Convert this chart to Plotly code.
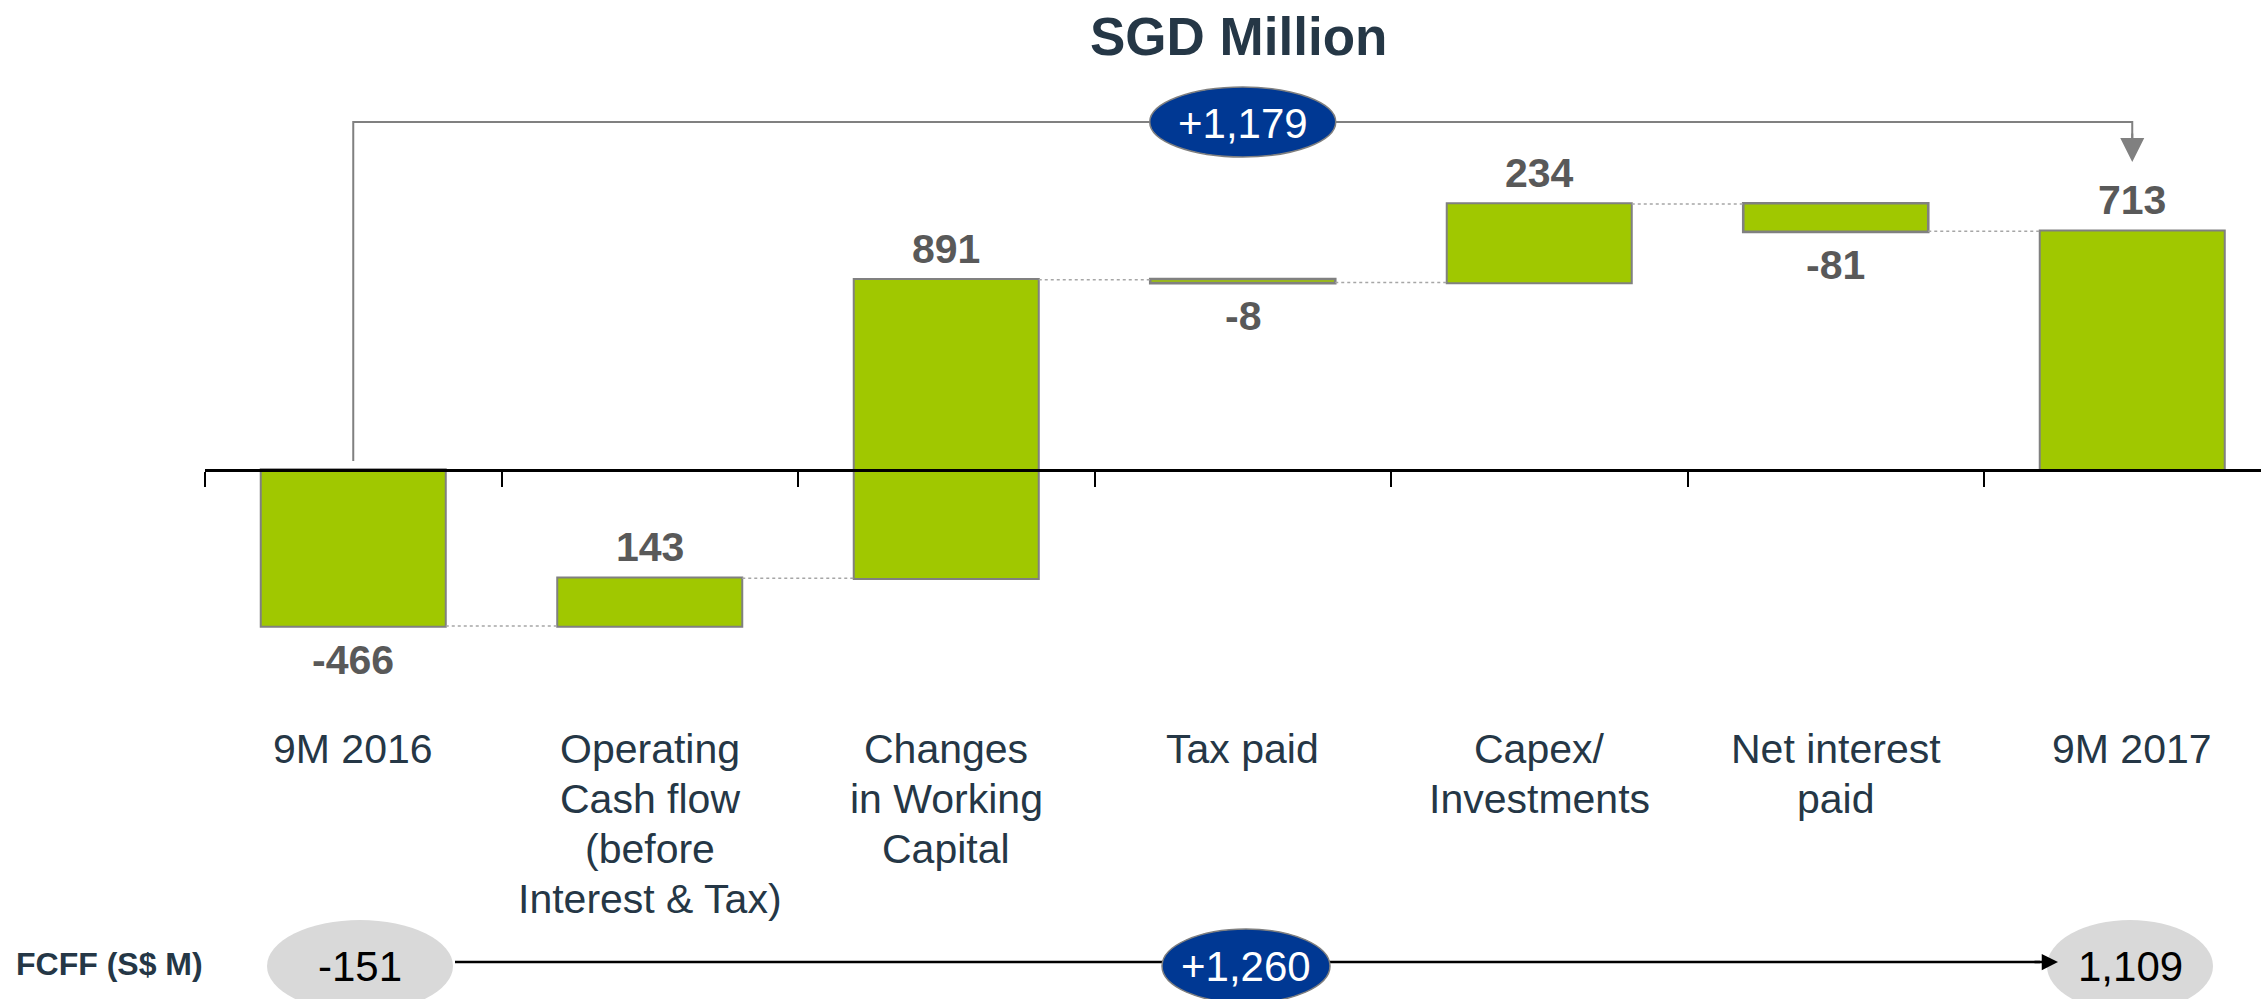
import plotly.graph_objects as go

# data
categories = ["9M 2016", "Operating<br>Cash flow<br>(before<br>Interest & Tax)",
              "Changes<br>in Working<br>Capital", "Tax paid", "Capex/<br>Investments",
              "Net interest<br>paid", "9M 2017"]
values = [-466, 143, 891, -8, 234, -81, 713]
measures = ["absolute", "relative", "relative", "relative", "relative", "relative", "total"]
fcff_start = -151
fcff_change = 1260
fcff_end = 1109

W, H = 2261, 999
NAVY = "#253746"
GREEN = "#A0C800"
BLUE = "#003893"
FONT = "Liberation Sans"


def px(x):
    return x / W


def py(y):
    return 1 - y / H


# pixel layout of the reference
zero_y = 470
unit_px = 0.335
cat_px = 296.5
left_px = 205

fig = go.Figure()

bar_line = dict(color="#808080", width=2)
fig.add_trace(go.Waterfall(
    x=list(range(len(values))),
    y=values,
    measure=measures,
    cliponaxis=False,
    increasing=dict(marker=dict(color=GREEN, line=bar_line)),
    decreasing=dict(marker=dict(color=GREEN, line=dict(color="#808080", width=2.6))),
    totals=dict(marker=dict(color=GREEN, line=bar_line)),
    connector=dict(mode="between", line=dict(color="#A6A6A6", width=1.5, dash="dot")),
    showlegend=False,
    hoverinfo="skip",
))

# value labels at the end of each bar
running = 0
for i, (v, m) in enumerate(zip(values, measures)):
    if m == "absolute":
        running = v
        end = v
    elif m == "relative":
        running += v
        end = running
    else:
        end = running
    up = v >= 0
    fig.add_annotation(x=i, y=end, xref="x", yref="y", xanchor="center", yanchor="middle",
                       yshift=31 if up else -34, text=f"<b>{v:,}</b>", showarrow=False,
                       font=dict(family=FONT, size=41, color="#595959"))

# category labels, one annotation per line
for i, c in enumerate(categories):
    for k, line in enumerate(c.split("<br>")):
        fig.add_annotation(x=i, xref="x", y=py(749 + 50 * k), yref="paper",
                           xanchor="center", yanchor="middle",
                           text=line, showarrow=False,
                           font=dict(family=FONT, size=41, color=NAVY))

# title
fig.add_annotation(x=px(1238), y=py(37), xref="paper", yref="paper",
                   xanchor="center", yanchor="middle",
                   text="<b>SGD Million</b>", showarrow=False,
                   font=dict(family=FONT, size=53, color=NAVY))

# top bracket from first to last bar
last = len(values) - 1
fig.add_shape(type="path", xref="x", yref="paper",
              path=f"M 0,{py(461)} V {py(122)} H {last} V {py(145)}",
              line=dict(color="#808080", width=2))
fig.add_annotation(x=last, xref="x", y=py(162), yref="paper", ax=0, ay=-30,
                   text="", showarrow=True, arrowhead=2, arrowsize=2.4,
                   arrowwidth=2, arrowcolor="#808080")
fig.add_shape(type="circle", xref="x", yref="paper", xsizemode="pixel", ysizemode="pixel",
              xanchor=last / 2, yanchor=py(122), x0=-93, x1=93, y0=-35, y1=35,
              fillcolor=BLUE, line=dict(color="#7F7F7F", width=1.5))
fig.add_annotation(x=last / 2, xref="x", y=py(123), yref="paper",
                   xanchor="center", yanchor="middle",
                   text=f"+{values[-1] - values[0]:,}", showarrow=False,
                   font=dict(family=FONT, size=42, color="white"))

# FCFF row
row_y = 962
fig.add_annotation(x=px(14), y=py(row_y + 2), xref="paper", yref="paper",
                   xanchor="left", yanchor="middle",
                   text="<b>FCFF (S$ M)</b>", showarrow=False,
                   font=dict(family=FONT, size=32, color=NAVY))
fig.add_shape(type="line", xref="paper", yref="paper",
              x0=px(455), x1=px(2040), y0=py(row_y), y1=py(row_y),
              line=dict(color="black", width=2.5))
fig.add_annotation(x=px(2058), y=py(row_y), xref="paper", yref="paper", ax=-25, ay=0,
                   text="", showarrow=True, arrowhead=2, arrowsize=1.3,
                   arrowwidth=2.5, arrowcolor="black")
for xc, rx, ry, fill, border, txt, col in [
        (360, 93, 46, "#D9D9D9", "rgba(0,0,0,0)", f"{fcff_start:,}", "black"),
        (1246, 84, 37, BLUE, "#7F7F7F", f"+{fcff_change:,}", "white"),
        (2130, 83, 46, "#D9D9D9", "rgba(0,0,0,0)", f"{fcff_end:,}", "black")]:
    fig.add_shape(type="circle", xref="paper", yref="paper", xsizemode="pixel", ysizemode="pixel",
                  xanchor=px(xc), yanchor=py(966), x0=-rx, x1=rx, y0=-ry, y1=ry,
                  fillcolor=fill, line=dict(color=border, width=1.5))
    fig.add_annotation(x=px(xc), y=py(966), xref="paper", yref="paper",
                       xanchor="center", yanchor="middle",
                       text=txt, showarrow=False,
                       font=dict(family=FONT, size=42, color=col))

fig.update_layout(
    width=W, height=H,
    margin=dict(l=0, r=0, t=0, b=0),
    plot_bgcolor="white", paper_bgcolor="white",
    waterfallgap=0.376,
    xaxis=dict(domain=[px(left_px), 1], range=[-0.5, -0.5 + (W - left_px) / cat_px],
               anchor="free", position=py(zero_y),
               showline=True, linecolor="black", linewidth=3,
               ticks="outside", ticklen=15, tickwidth=2, tickcolor="black",
               tick0=-0.5, dtick=1, showticklabels=False, showgrid=False, zeroline=False),
    yaxis=dict(domain=[0, 1], range=[(zero_y - H) / unit_px, zero_y / unit_px],
               visible=False, showgrid=False, zeroline=False),
)

fig.write_html("out.html", config={"displayModeBar": False},
               post_script="document.body.style.margin='0';")
